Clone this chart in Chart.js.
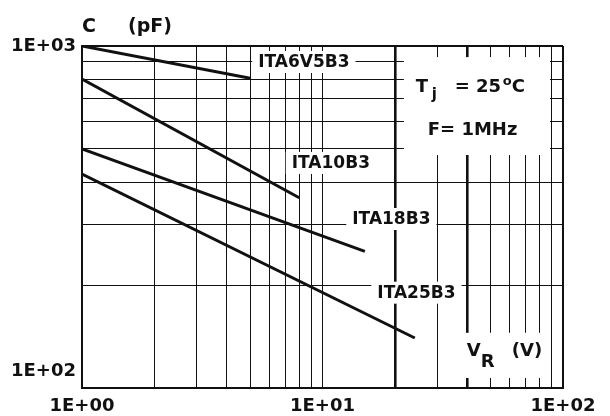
<!DOCTYPE html>
<html>
<head>
<meta charset="utf-8">
<script src="https://cdn.jsdelivr.net/npm/chart.js@4.4.1/dist/chart.umd.min.js"></script>
<style>
  html, body { margin: 0; padding: 0; background: #fff; }
  #wrap { width: 610px; height: 416px; position: relative; }
</style>
</head>
<body>
<div id="wrap"><canvas id="chart"></canvas></div>
<script>
// grid / tick values
const vTicks = [1, 2, 3, 4, 5, 6, 7, 8, 9, 10, 20, 30, 40, 50, 60, 70, 80, 90, 100]
const cTicks = [100, 200, 300, 400, 500, 600, 700, 800, 900, 1000]
const xLabelValues = [1, 10, 100]
const xLabelTexts = ['1E+00', '1E+01', '1E+02']
const yLabelValues = [100, 1000]
const yLabelTexts = ['1E+02', '1E+03']
const thickV = [20, 40]

// curves: reverse voltage (V) -> capacitance (pF)
const seriesNames = ['ITA6V5B3', 'ITA10B3', 'ITA18B3', 'ITA25B3']
const ita6v5V = [1, 5]
const ita6v5C = [1000, 805]
const ita10V = [1, 8]
const ita10C = [800, 360]
const ita18V = [1, 15]
const ita18C = [500, 251]
const ita25V = [1, 24.2]
const ita25C = [422, 140]

// where the curve names sit (V, pF)
const labelV = [5.4, 7.45, 13.3, 16.9]
const labelC = [898, 455, 312, 190]

const FONT = '"DejaVu Sans", sans-serif'
const INK = '#111'

function pts(xs, ys) {
  return xs.map((x, i) => ({ x, y: ys[i] }))
}

function curve(xs, ys) {
  return {
    data: pts(xs, ys),
    showLine: true,
    borderColor: INK,
    borderWidth: 3,
    pointRadius: 0,
    fill: false
  }
}

// white patches, labels and annotations
const notes = {
  id: 'notes',
  beforeDatasetsDraw(chart) {
    const { ctx } = chart
    const xs = chart.scales.x
    const ys = chart.scales.y
    const px = v => xs.getPixelForValue(v)
    const py = v => ys.getPixelForValue(v)

    ctx.save()
    ctx.fillStyle = '#fff'
    // conditions box
    ctx.fillRect(px(21.8), py(928), px(88.3) - px(21.8), py(480) - py(928))
    // axis name box
    ctx.fillRect(px(34.1), py(145), px(88.3) - px(34.1), py(107) - py(145))

    ctx.font = 'bold 17px ' + FONT
    ctx.textBaseline = 'middle'
    seriesNames.forEach((name, i) => {
      const x = px(labelV[i])
      const y = py(labelC[i])
      const w = ctx.measureText(name).width
      ctx.fillStyle = '#fff'
      ctx.fillRect(x - 6, y - 11, w + 12, 22)
      ctx.fillStyle = INK
      ctx.fillText(name, x, y + 1)
    })

    ctx.fillStyle = INK
    ctx.textBaseline = 'alphabetic'
    // Tj = 25 oC
    const tx = px(24.4), ty = py(759) + 5
    ctx.font = 'bold 18px ' + FONT
    ctx.fillText('T', tx, ty)
    ctx.font = 'bold 15px ' + FONT
    ctx.fillText('j', tx + 16, ty + 7)
    ctx.font = 'bold 18px ' + FONT
    ctx.fillText('= 25', tx + 39, ty)
    ctx.font = 'bold 13px ' + FONT
    ctx.fillText('o', tx + 87, ty - 7)
    ctx.font = 'bold 18px ' + FONT
    ctx.fillText('C', tx + 96, ty)
    // F= 1MHz
    ctx.fillText('F= 1MHz', px(27.4), py(568) + 5)

    // VR (V)
    const vx = px(39.8), vy = py(130) + 7
    ctx.fillText('V', vx, vy)
    ctx.fillText('R', vx + 14, vy + 11)
    ctx.fillText('(V)', vx + 45, vy)

    // C (pF)
    ctx.font = 'bold 19px ' + FONT
    ctx.fillText('C', chart.chartArea.left, 32)
    ctx.fillText('(pF)', chart.chartArea.left + 46, 32)
    ctx.restore()
  }
}

new Chart(document.getElementById('chart'), {
  type: 'scatter',
  data: {
    datasets: [
      curve(ita6v5V, ita6v5C),
      curve(ita10V, ita10C),
      curve(ita18V, ita18C),
      curve(ita25V, ita25C)
    ]
  },
  options: {
    responsive: true,
    maintainAspectRatio: false,
    animation: false,
    layout: { padding: { top: 46, right: 47, left: 0, bottom: 0 } },
    plugins: {
      legend: { display: false },
      tooltip: { enabled: false }
    },
    scales: {
      x: {
        type: 'logarithmic',
        min: 1,
        max: 100,
        afterBuildTicks: s => { s.ticks = vTicks.map(v => ({ value: v })) },
        afterFit: s => { s.height = 28 },
        border: { display: true, width: 2, color: INK },
        grid: {
          color: INK,
          drawTicks: false,
          lineWidth: c => (thickV.includes(c.tick.value) ? 2.6 : c.tick.value === 100 ? 2 : 1)
        },
        ticks: {
          autoSkip: false,
          maxRotation: 0,
          padding: 8,
          color: INK,
          font: { family: FONT, weight: 'bold', size: 18 },
          callback: v => {
            const i = xLabelValues.indexOf(v)
            return i >= 0 ? xLabelTexts[i] : ''
          }
        }
      },
      y: {
        type: 'logarithmic',
        min: 100,
        max: 1000,
        afterBuildTicks: s => { s.ticks = cTicks.map(v => ({ value: v })) },
        afterFit: s => {
          s.width = 82
          s.paddingTop = 0
          s.paddingBottom = 0
        },
        border: { display: true, width: 2, color: INK },
        grid: {
          color: INK,
          drawTicks: false,
          lineWidth: c => (c.tick.value === 1000 ? 2 : 1)
        },
        ticks: {
          autoSkip: false,
          padding: 6,
          color: INK,
          font: { family: FONT, weight: 'bold', size: 18, lineHeight: 1.8 },
          callback: v => {
            const i = yLabelValues.indexOf(v)
            if (i < 0) return ''
            // bottom label sits a little above its line
            return v === 100 ? [yLabelTexts[i], ''] : yLabelTexts[i]
          }
        }
      }
    }
  },
  plugins: [notes]
})
</script>
</body>
</html>
